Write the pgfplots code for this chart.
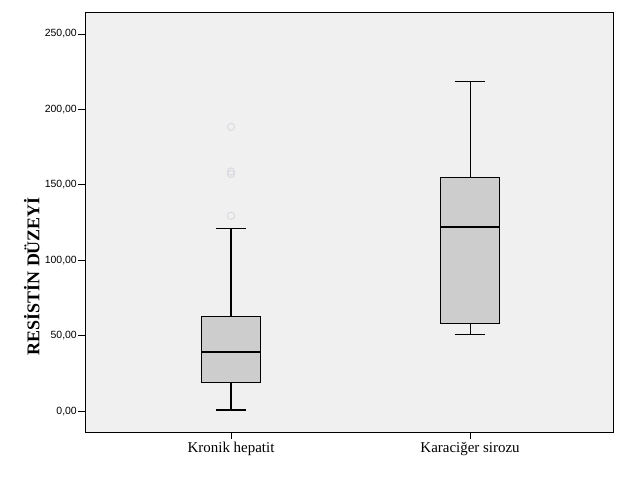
\documentclass[border=0pt]{standalone}
\usepackage{pgfplots}
\pgfplotsset{compat=1.18}
\usepackage{fontspec}
\setmainfont{Liberation Serif}
\newfontfamily\arial{Liberation Sans}
\definecolor{bg}{HTML}{F0F0F0}
\definecolor{boxgray}{HTML}{CDCDCD}
\definecolor{outl}{HTML}{DADAE2}
\begin{document}
\begin{tikzpicture}
\useasboundingbox (0,0) rectangle (629bp,504bp);
\begin{axis}[
  at={(85bp,72bp)}, anchor=south west,
  scale only axis, width=528bp, height=420bp,
  xmin=0.389, xmax=2.598, ymin=-13.9, ymax=264.6,
  axis background/.style={fill=bg},
  xtick={1,2}, xticklabels={Kronik hepatit, Karaciğer sirozu},
  ytick={0,50,100,150,200,250},
  tick align=outside, xtick pos=bottom, ytick pos=left,
  major tick length=7bp,
  tick style={black, line width=0.8bp},
  axis line style={line width=0.8bp},
  xticklabel style={font=\fontsize{15}{17}\selectfont},
  yticklabel style={font=\arial\fontsize{10.5}{12}\selectfont, inner xsep=1bp},
  /pgf/number format/fixed,
  /pgf/number format/fixed zerofill,
  /pgf/number format/precision=2,
  /pgf/number format/use comma,
  /pgf/number format/assume math mode=true,
  ylabel={\textbf{RESİSTİN DÜZEYİ}},
  ylabel style={font=\fontsize{18}{20}\selectfont, at={(axis description cs:-0.101,0.371)}, anchor=center},
]
% Kronik hepatit: whiskers 0.7 / 121.1, box 19.0 - 62.9, median 39.0
\addplot[black, line width=1.1bp] coordinates {(1,62.9) (1,121.1)};
\addplot[black, line width=1.1bp] coordinates {(1,0.7) (1,19.0)};
\addplot[black, line width=1.1bp] coordinates {(0.937,121.1) (1.063,121.1)};
\addplot[black, line width=1.1bp] coordinates {(0.937,0.7) (1.063,0.7)};
\addplot[fill=boxgray, draw=black, line width=1.1bp] coordinates {(0.875,19.0) (1.125,19.0) (1.125,62.9) (0.875,62.9)} -- cycle;
\addplot[black, line width=2.4bp] coordinates {(0.875,39.0) (1.125,39.0)};
% Karaciger sirozu: whiskers 51.0 / 218.4, box 57.8 - 154.7, median 122.2
\addplot[black, line width=1.1bp] coordinates {(2,154.7) (2,218.4)};
\addplot[black, line width=1.1bp] coordinates {(2,51.0) (2,57.8)};
\addplot[black, line width=1.1bp] coordinates {(1.937,218.4) (2.063,218.4)};
\addplot[black, line width=1.1bp] coordinates {(1.937,51.0) (2.063,51.0)};
\addplot[fill=boxgray, draw=black, line width=1.1bp] coordinates {(1.875,57.8) (2.125,57.8) (2.125,154.7) (1.875,154.7)} -- cycle;
\addplot[black, line width=2.4bp] coordinates {(1.875,122.2) (2.125,122.2)};
% outliers
\addplot[only marks, mark=o, mark size=3.6bp, draw=outl, line width=1bp] coordinates {(1,188.4) (1,158.8) (1,157.2) (1,129.5)};
\end{axis}
\end{tikzpicture}
\end{document}
